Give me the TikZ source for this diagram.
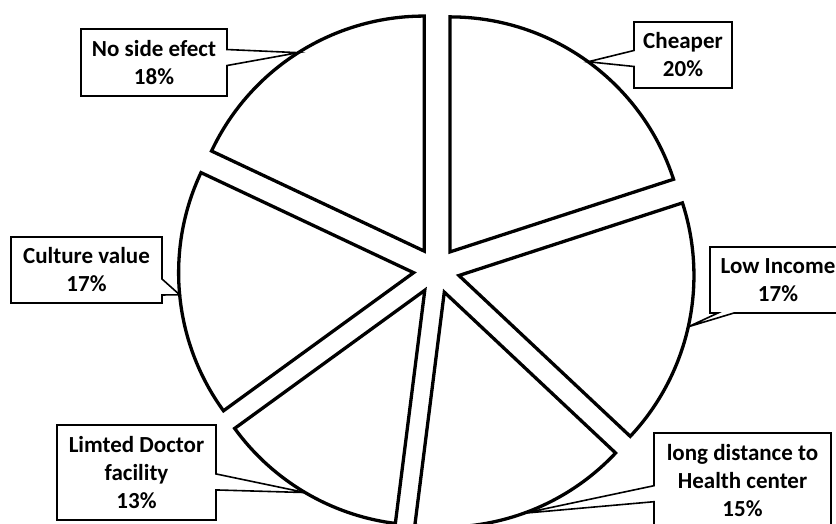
\documentclass[tikz,border=0pt]{standalone}
\usepackage{fontspec}
\setmainfont{Carlito}
\usetikzlibrary{shapes.callouts}

\tikzset{
  slice/.style={draw=black, line width=3.3pt, fill=white},
  callbox/.style={rectangle callout, draw=black, line width=1.6pt, fill=white,
    align=center, inner sep=0pt, callout pointer width=16pt,
    font=\fontsize{23}{28}\selectfont\bfseries}
}

\begin{document}
\begin{tikzpicture}[x=1pt,y=1pt]
  \useasboundingbox (0,0) rectangle (836,524);

  % centre of the pie
  \coordinate (c) at (436.5,253.5);

  % Draw the exploded slices, one tip on each arc for its label
  \foreach \a/\b/\m/\n in {90/18/54/chp, 18/-43.2/-12.6/low, -43.2/-97.2/-70.2/dist,
      -97.2/-144/-120.6/lim, -144/-205.2/-174.6/cult, 154.8/90/122.4/nse} {
    \draw[slice] ([shift={(\m:23)}]c) -- ++(\a:235)
      arc[start angle=\a, end angle=\b, radius=235] -- cycle;
    \coordinate (tip-\n) at ([shift={(\m:258)}]c);
  }

  % Add the labels
  \node[callbox, callout absolute pointer={(tip-chp)}, minimum width=98pt, minimum height=66pt]
    (chp) at (683,469) {Cheaper\\20\%};
  \node[callbox, callout absolute pointer={(tip-low)}, minimum width=136pt, minimum height=66pt]
    (low) at (778,244) {Low Income\\17\%};
  \node[callbox, callout absolute pointer={(tip-dist)}, minimum width=177pt, minimum height=95pt]
    (dist) at (742.5,43.5) {long distance to\\Health center\\15\%};
  \node[callbox, callout absolute pointer={(tip-lim)}, minimum width=159pt, minimum height=95pt]
    (lim) at (136.5,51.5) {Limted Doctor\\facility\\13\%};
  \node[callbox, callout absolute pointer={(tip-cult)}, minimum width=151pt, minimum height=66pt]
    (cult) at (86.5,254) {Culture value\\17\%};
  \node[callbox, callout absolute pointer={(tip-nse)}, minimum width=146pt, minimum height=67pt]
    (nse) at (154,461.5) {No side efect\\18\%};
\end{tikzpicture}
\end{document}
